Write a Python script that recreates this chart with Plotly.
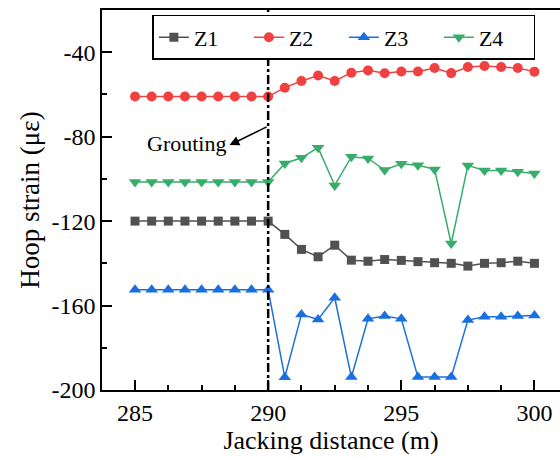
import plotly.graph_objects as go

# Jacking distance (m): 25 readings from 285 m to 300 m
distance = [285 + 0.625 * i for i in range(25)]

z1 = [-120, -120, -120, -120, -120, -120, -120, -120, -120,
      -126.3, -133.4, -136.9, -131.4, -138.5, -139, -138.2, -138.6,
      -139.2, -139.7, -140, -141.3, -140, -139.7, -139, -140]
z2 = [-61, -61, -61, -61, -61, -61, -61, -61, -61,
      -56.8, -53.6, -51, -53.6, -49.7, -48.6, -50, -49.1,
      -49.1, -47.5, -49.9, -47, -46.5, -47, -47.5, -49.2]
z3 = [-152.5, -152.5, -152.5, -152.5, -152.5, -152.5, -152.5, -152.5, -152.5,
      -194, -164.2, -166.6, -156.3, -193.9, -166.3, -165, -166.3,
      -193.9, -193.9, -193.9, -166.9, -165.3, -165.3, -165, -164.7]
z4 = [-101.5, -101.5, -101.5, -101.5, -101.5, -101.5, -101.5, -101.5, -101.5,
      -92.7, -90, -85.2, -103.1, -89.5, -90.3, -95.8, -92.8,
      -93.5, -95.5, -130.6, -93.6, -96, -96, -96.6, -97.4]

series_names = ["Z1", "Z2", "Z3", "Z4"]
series_colors = ["#515151", "#F14040", "#1A6FDF", "#37AD6B"]
series_symbols = ["square", "circle", "triangle-up", "triangle-down"]
series_sizes = [9, 10, 11, 11]

x_tickvals = [285, 290, 295, 300]
x_ticktext = ["285", "290", "295", "300"]
y_tickvals = [-200, -160, -120, -80, -40]
y_ticktext = ["-200", "-160", "-120", "-80", "-40"]

grouting_x = 290

FONT = "Liberation Serif"

fig = go.Figure()
for name, ys, col, sym, sz in zip(series_names, [z1, z2, z3, z4],
                                  series_colors, series_symbols, series_sizes):
    fig.add_trace(go.Scatter(
        x=distance, y=ys, name=name, mode="lines+markers",
        line=dict(color=col, width=1.5),
        marker=dict(symbol=sym, size=sz, color=col),
    ))

# Grouting position
fig.add_shape(type="line", x0=grouting_x, x1=grouting_x, y0=0, y1=1,
              xref="x", yref="y domain",
              line=dict(color="black", width=2.5, dash="dashdot"))

fig.add_annotation(x=288.55, y=-84, ax=grouting_x, ay=-75,
                   xref="x", yref="y", axref="x", ayref="y",
                   text="", showarrow=True, arrowhead=2, arrowsize=1.3,
                   arrowwidth=1.5, arrowcolor="black")
fig.add_annotation(x=286.92, y=-83.2, xref="x", yref="y", text="Grouting",
                   showarrow=False, font=dict(family=FONT, size=22, color="black"))

axis_common = dict(
    showgrid=False, zeroline=False, showline=True, linecolor="black",
    linewidth=1.5, ticks="inside", ticklen=10, tickwidth=1.5, tickcolor="black",
    tickfont=dict(family=FONT, size=24, color="black"),
)

fig.update_xaxes(
    range=[283.76, 300.96], tickvals=x_tickvals, ticktext=x_ticktext, mirror=True,
    minor=dict(ticks="inside", ticklen=5, tickwidth=1.5, tickcolor="black", dtick=1.25, tick0=285),
    title=dict(text="Jacking distance (m)", font=dict(family=FONT, size=26, color="black"), standoff=4),
    **axis_common,
)
fig.update_yaxes(
    range=[-200, -20], tickvals=y_tickvals, ticktext=y_ticktext,
    minor=dict(ticks="inside", ticklen=5, tickwidth=1.5, tickcolor="black", dtick=20, tick0=0),
    title=dict(text="Hoop strain (με)", font=dict(family=FONT, size=27, color="black"), standoff=4),
    **axis_common,
)

fig.update_layout(
    width=560, height=459,
    margin=dict(l=102, r=0, t=10, b=69),
    plot_bgcolor="white", paper_bgcolor="white",
    legend=dict(
        orientation="h", x=0.11, y=0.987, xanchor="left", yanchor="top",
        bordercolor="black", borderwidth=1.5, bgcolor="white",
        font=dict(family=FONT, size=22, color="black"),
        entrywidth=50, entrywidthmode="pixels", tracegroupgap=0,
    ),
    showlegend=True,
)

fig.write_html("out.html")
